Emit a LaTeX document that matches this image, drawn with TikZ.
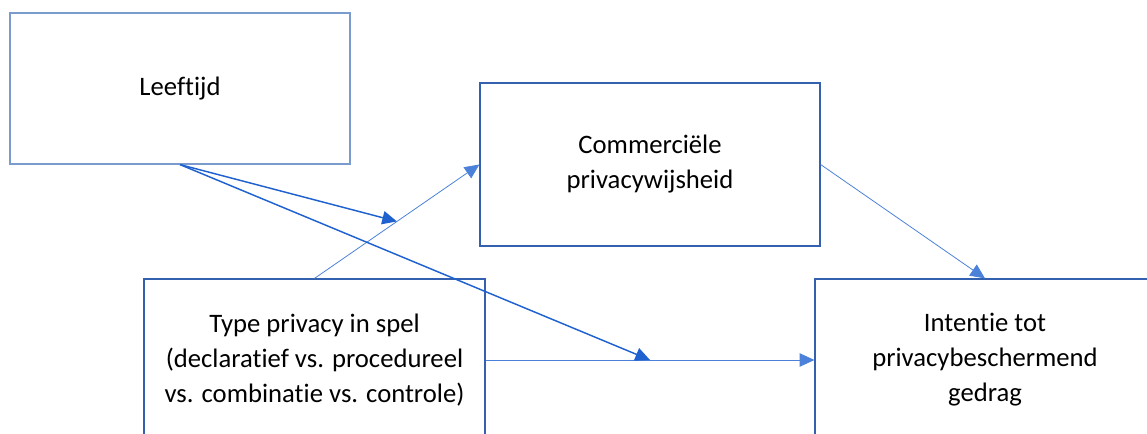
\documentclass[tikz,border=0pt]{standalone}
\usepackage{fontspec}
\setmainfont[Ligatures=NoCommon]{Carlito}
\usetikzlibrary{arrows.meta,calc}
\definecolor{boxblue}{RGB}{52,96,176}
\definecolor{boxlight}{RGB}{122,155,205}
\definecolor{arrblue}{RGB}{31,98,207}
\tikzset{
  box/.style={draw=boxblue, line width=0.9pt, minimum width=340*0.75pt, align=center,
    font=\fontsize{20pt}{26.25pt}\selectfont, inner sep=0pt},
  thinarr/.style={draw=arrblue!80, line width=0.6pt, -{Triangle[length=11pt,width=10pt]}},
  thickarr/.style={draw=arrblue, line width=1.1pt, -{Triangle[length=11pt,width=10pt]}},
}
\begin{document}
\begin{tikzpicture}[x=0.75pt,y=-0.75pt]
\useasboundingbox (0,0) rectangle (1147,434);
\clip (0,0) rectangle (1147,434);
\node[box, draw=boxlight, minimum height=151*0.75pt] (L) at (180,88.5) {Leeftijd};
\node[box, minimum height=163*0.75pt] (C) at (650,164.5) {Commerciële\\privacywijsheid};
\node[box, minimum width=341*0.75pt, minimum height=162*0.75pt] (T) at (314.5,360) {Type privacy in spel\\(declaratief vs. procedureel\\vs. combinatie vs. controle)};
\node[box, minimum height=162*0.75pt] (I) at (985,360) {Intentie tot\\privacybeschermend\\gedrag};
\coordinate (m1) at ($(T.north)!0.5!(C.west)$);
\coordinate (m2) at ($(T.east)!0.5!(I.west)$);
\draw[thinarr] (T.north) -- (C.west);
\draw[thinarr] (C.east) -- (I.north);
\draw[thinarr] (T.east) -- (I.west);
\draw[thickarr] (L.south) -- (m1);
\draw[thickarr] (L.south) -- (m2);
\end{tikzpicture}
\end{document}
